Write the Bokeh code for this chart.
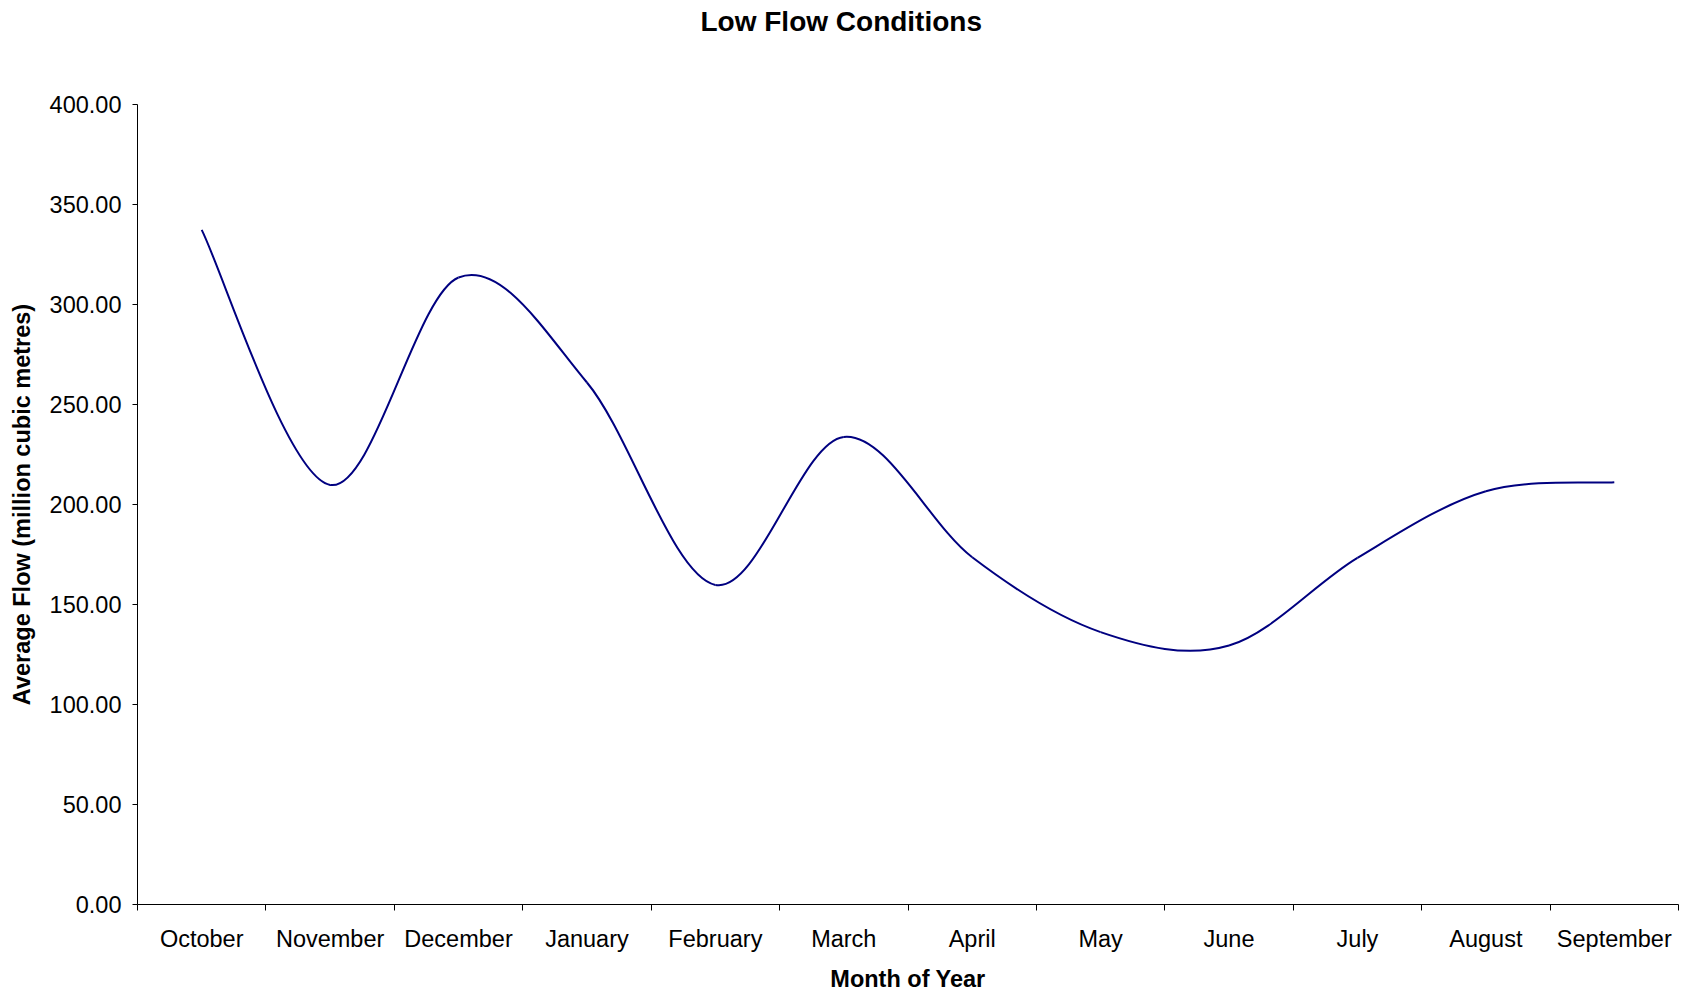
import numpy as np
from bokeh.plotting import figure
from bokeh.models import (Range1d, FixedTicker, NumeralTickFormatter,
                          ColumnDataSource, Title)
from bokeh.embed import file_html
from bokeh.resources import INLINE

# ---- data ----
months = ["October", "November", "December", "January", "February", "March",
          "April", "May", "June", "July", "August", "September"]
flow = [337.3, 209.8, 313.5, 261.0, 159.8, 233.8,
        173.6, 136.2, 129.5, 173.3, 206.6, 211.1]
y_ticks = [0, 50, 100, 150, 200, 250, 300, 350, 400]

title_text = "Low Flow Conditions"
x_title = "Month of Year"
y_title = "Average Flow (million cubic metres)"

FONT = "Liberation Sans"
LINE_COLOR = "#000080"

# category centres on a numeric axis (category i spans i..i+1)
n = len(months)
xc = np.arange(n) + 0.5
yv = np.array(flow, dtype=float)

# Excel-style smoothed line: Catmull-Rom -> cubic Bezier segments
xp = np.concatenate([[xc[0]], xc, [xc[-1]]])
yp = np.concatenate([[yv[0]], yv, [yv[-1]]])
seg = dict(x0=[], y0=[], x1=[], y1=[], cx0=[], cy0=[], cx1=[], cy1=[])
for i in range(n - 1):
    j = i + 1
    seg["x0"].append(xp[j]); seg["y0"].append(yp[j])
    seg["x1"].append(xp[j + 1]); seg["y1"].append(yp[j + 1])
    seg["cx0"].append(xp[j] + (xp[j + 1] - xp[j - 1]) / 6.0)
    seg["cy0"].append(yp[j] + (yp[j + 1] - yp[j - 1]) / 6.0)
    seg["cx1"].append(xp[j + 1] - (xp[j + 2] - xp[j]) / 6.0)
    seg["cy1"].append(yp[j + 1] - (yp[j + 2] - yp[j]) / 6.0)
src = ColumnDataSource(seg)

p = figure(frame_width=1541, frame_height=800,
           x_range=Range1d(0, n), y_range=Range1d(0, 400),
           output_backend="svg", toolbar_location=None,
           min_border_left=137, min_border_right=3, min_border_top=104,
           min_border_bottom=10, title=title_text)

p.bezier(x0="x0", y0="y0", x1="x1", y1="y1", cx0="cx0", cy0="cy0",
         cx1="cx1", cy1="cy1", source=src, line_color=LINE_COLOR,
         line_width=2)

p.xgrid.visible = False
p.ygrid.visible = False
p.outline_line_color = None
p.background_fill_color = "white"
p.border_fill_color = "white"

# title (kept at the top of the chart by an empty spacer band below it)
p.title.text_font = FONT
p.title.text_font_size = "28px"
p.title.text_font_style = "bold"
p.title.text_color = "black"
p.title.align = "left"
p.title.offset = 563
p.title.vertical_align = "top"
p.title.standoff = 4
p.add_layout(Title(text=" ", text_font_size="2px", standoff=60), "above")

# x axis: labels at centres, tick marks at category boundaries
xa = p.xaxis[0]
xa.ticker = FixedTicker(ticks=list(xc), minor_ticks=list(range(n + 1)))
xa.major_label_overrides = {float(c): m for c, m in zip(xc, months)}
xa.major_tick_line_color = None
xa.major_tick_out = 6
xa.major_tick_in = 0
xa.minor_tick_line_color = "black"
xa.minor_tick_out = 6
xa.minor_tick_in = 0
xa.axis_line_color = "black"
xa.major_label_text_font = FONT
xa.major_label_text_font_size = "23.5px"
xa.major_label_text_color = "black"
xa.major_label_standoff = 15
xa.axis_label = x_title
xa.axis_label_text_font = FONT
xa.axis_label_text_font_size = "23.5px"
xa.axis_label_text_font_style = "bold"
xa.axis_label_text_color = "black"
xa.axis_label_standoff = 11

ya = p.yaxis[0]
ya.ticker = FixedTicker(ticks=y_ticks)
ya.formatter = NumeralTickFormatter(format="0.00")
ya.major_tick_out = 5
ya.major_tick_in = 0
ya.major_tick_line_color = "black"
ya.minor_tick_line_color = None
ya.axis_line_color = "black"
ya.major_label_text_font = FONT
ya.major_label_text_font_size = "23.5px"
ya.major_label_text_color = "black"
ya.major_label_standoff = 11
ya.axis_label = y_title
ya.axis_label_text_font = FONT
ya.axis_label_text_font_size = "23.5px"
ya.axis_label_text_font_style = "bold"
ya.axis_label_text_color = "black"
ya.axis_label_standoff = 12

open("out.html", "w").write(file_html(p, INLINE))
